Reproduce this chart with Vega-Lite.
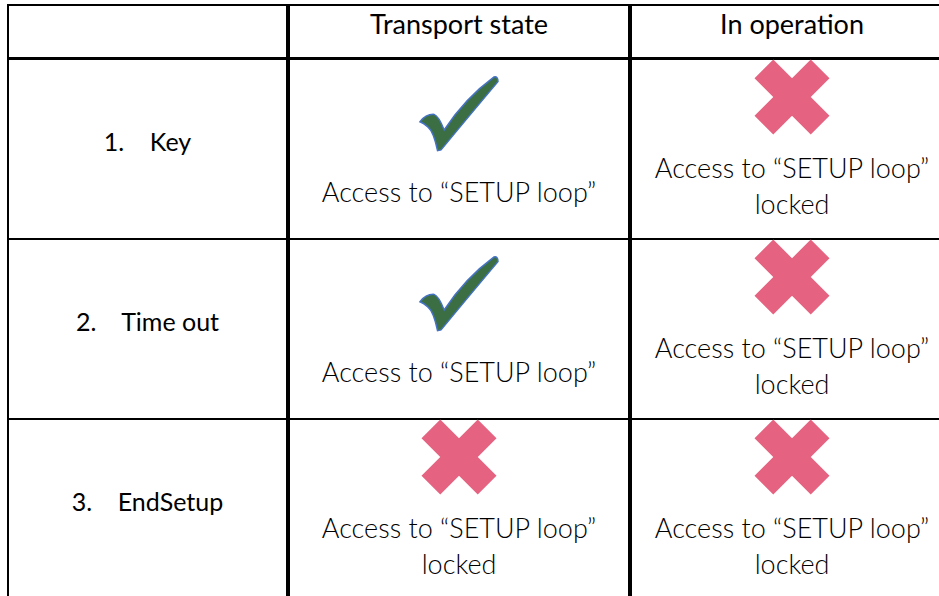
{
  "$schema": "https://vega.github.io/schema/vega-lite/v6.json",
  "background": "white",
  "padding": {"left": 6, "top": 4, "right": 0, "bottom": 0},
  "config": {
    "view": {"stroke": "black", "strokeWidth": 2},
    "text": {"font": "Lato", "fontSize": 27, "baseline": "middle", "align": "center"}
  },
  "datasets": {
    "cells": [
      {"row": 1, "label": "1.\u00a0\u00a0\u00a0\u00a0Key", "col": "Transport state", "status": "allowed", "note": "Access to “SETUP loop”"},
      {"row": 1, "label": "1.\u00a0\u00a0\u00a0\u00a0Key", "col": "In operation", "status": "locked", "note": "Access to “SETUP loop”\nlocked"},
      {"row": 2, "label": "2.\u00a0\u00a0\u00a0\u00a0Time out", "col": "Transport state", "status": "allowed", "note": "Access to “SETUP loop”"},
      {"row": 2, "label": "2.\u00a0\u00a0\u00a0\u00a0Time out", "col": "In operation", "status": "locked", "note": "Access to “SETUP loop”\nlocked"},
      {"row": 3, "label": "3.\u00a0\u00a0\u00a0\u00a0EndSetup", "col": "Transport state", "status": "locked", "note": "Access to “SETUP loop”\nlocked"},
      {"row": 3, "label": "3.\u00a0\u00a0\u00a0\u00a0EndSetup", "col": "In operation", "status": "locked", "note": "Access to “SETUP loop”\nlocked"}
    ]
  },
  "spacing": -5,
  "hconcat": [
    {
      "spacing": -5,
      "vconcat": [
        {
          "width": 279, "height": 53,
          "data": {"values": [{"col": ""}]},
          "mark": {"type": "text", "dy": -6},
          "encoding": {
            "y": {"field": "col", "type": "nominal", "scale": {"type": "band", "paddingInner": 0, "paddingOuter": 0}, "axis": null},
            "text": {"field": "col"}
          }
        },
        {
          "width": 279, "height": 540,
          "data": {"name": "cells"},
          "transform": [{"filter": "datum.col == 'Transport state'"}],
          "layer": [
            {
              "mark": {"type": "rule", "color": "black", "strokeWidth": 2},
              "encoding": {"y": {"field": "row", "type": "ordinal", "bandPosition": 0, "scale": {"type": "band", "domain": [1, 2, 3], "paddingInner": 0, "paddingOuter": 0}, "axis": null}}
            },
            {
              "mark": {"type": "text", "color": "black", "fontSize": 25, "dy": -6},
              "encoding": {
                "y": {"field": "row", "type": "ordinal", "scale": {"type": "band", "domain": [1, 2, 3], "paddingInner": 0, "paddingOuter": 0}, "axis": null},
                "text": {"field": "label"}
              }
            }
          ]
        }
      ]
    },
    {
      "spacing": -5,
      "vconcat": [
        {
          "width": 340, "height": 53,
          "data": {"name": "cells"},
          "transform": [{"filter": "datum.col == 'Transport state'"}, {"aggregate": [], "groupby": ["col"]}],
          "mark": {"type": "text", "color": "black", "dy": -6},
          "encoding": {
            "y": {"field": "col", "type": "nominal", "scale": {"type": "band", "paddingInner": 0, "paddingOuter": 0}, "axis": null},
            "text": {"field": "col"}
          }
        },
        {
          "width": 340, "height": 540,
          "data": {"name": "cells"},
          "transform": [{"filter": "datum.col == 'Transport state'"}],
          "layer": [
            {
              "mark": {"type": "rule", "color": "black", "strokeWidth": 2},
              "encoding": {"y": {"field": "row", "type": "ordinal", "bandPosition": 0, "scale": {"type": "band", "domain": [1, 2, 3], "paddingInner": 0, "paddingOuter": 0}, "axis": null}}
            },
            {
              "transform": [{"filter": "datum.status == 'allowed'"}],
              "mark": {"type": "point", "shape": "M -1 0.2 Q -0.85 0 -0.64 0.01 Q -0.52 0.05 -0.38 0.41 Q 0.15 -0.4 0.9 -0.95 Q 1 -0.97 1 -0.83 Q 0.3 0 -0.46 0.92 L -0.55 0.94 Q -0.65 0.45 -0.8 0.33 Q -0.9 0.24 -1 0.2 Z", "size": 6084, "fill": "#3B6E42", "stroke": "#4472C4", "strokeWidth": 1.5, "opacity": 1, "yOffset": -35},
              "encoding": {"y": {"field": "row", "type": "ordinal", "scale": {"type": "band", "domain": [1, 2, 3], "paddingInner": 0, "paddingOuter": 0}, "axis": null}}
            },
            {
              "transform": [{"filter": "datum.status == 'locked'"}],
              "mark": {"type": "point", "shape": "M -0.5 -1 L 0 -0.5 L 0.5 -1 L 1 -0.5 L 0.5 0 L 1 0.5 L 0.5 1 L 0 0.5 L -0.5 1 L -1 0.5 L -0.5 0 L -1 -0.5 Z", "size": 5625, "fill": "#E56380", "strokeWidth": 0, "opacity": 1, "yOffset": -52},
              "encoding": {"y": {"field": "row", "type": "ordinal", "scale": {"type": "band", "domain": [1, 2, 3], "paddingInner": 0, "paddingOuter": 0}, "axis": null}}
            },
            {
              "transform": [{"filter": "datum.status == 'allowed'"}],
              "mark": {"type": "text", "fontWeight": 300, "color": "#000000", "dy": 45},
              "encoding": {
                "y": {"field": "row", "type": "ordinal", "scale": {"type": "band", "domain": [1, 2, 3], "paddingInner": 0, "paddingOuter": 0}, "axis": null},
                "text": {"field": "note"}
              }
            },
            {
              "transform": [{"filter": "datum.status == 'locked'"}],
              "mark": {"type": "text", "fontWeight": 300, "color": "#000000", "dy": 21, "lineBreak": "\n", "lineHeight": 36},
              "encoding": {
                "y": {"field": "row", "type": "ordinal", "scale": {"type": "band", "domain": [1, 2, 3], "paddingInner": 0, "paddingOuter": 0}, "axis": null},
                "text": {"field": "note"}
              }
            }
          ]
        }
      ]
    },
    {
      "spacing": -5,
      "vconcat": [
        {
          "width": 322, "height": 53,
          "data": {"name": "cells"},
          "transform": [{"filter": "datum.col == 'In operation'"}, {"aggregate": [], "groupby": ["col"]}],
          "mark": {"type": "text", "color": "black", "dy": -6},
          "encoding": {
            "y": {"field": "col", "type": "nominal", "scale": {"type": "band", "paddingInner": 0, "paddingOuter": 0}, "axis": null},
            "text": {"field": "col"}
          }
        },
        {
          "width": 322, "height": 540,
          "data": {"name": "cells"},
          "transform": [{"filter": "datum.col == 'In operation'"}],
          "layer": [
            {
              "mark": {"type": "rule", "color": "black", "strokeWidth": 2},
              "encoding": {"y": {"field": "row", "type": "ordinal", "bandPosition": 0, "scale": {"type": "band", "domain": [1, 2, 3], "paddingInner": 0, "paddingOuter": 0}, "axis": null}}
            },
            {
              "transform": [{"filter": "datum.status == 'allowed'"}],
              "mark": {"type": "point", "shape": "M -1 0.2 Q -0.85 0 -0.64 0.01 Q -0.52 0.05 -0.38 0.41 Q 0.15 -0.4 0.9 -0.95 Q 1 -0.97 1 -0.83 Q 0.3 0 -0.46 0.92 L -0.55 0.94 Q -0.65 0.45 -0.8 0.33 Q -0.9 0.24 -1 0.2 Z", "size": 6084, "fill": "#3B6E42", "stroke": "#4472C4", "strokeWidth": 1.5, "opacity": 1, "yOffset": -35},
              "encoding": {"y": {"field": "row", "type": "ordinal", "scale": {"type": "band", "domain": [1, 2, 3], "paddingInner": 0, "paddingOuter": 0}, "axis": null}}
            },
            {
              "transform": [{"filter": "datum.status == 'locked'"}],
              "mark": {"type": "point", "shape": "M -0.5 -1 L 0 -0.5 L 0.5 -1 L 1 -0.5 L 0.5 0 L 1 0.5 L 0.5 1 L 0 0.5 L -0.5 1 L -1 0.5 L -0.5 0 L -1 -0.5 Z", "size": 5625, "fill": "#E56380", "strokeWidth": 0, "opacity": 1, "yOffset": -52},
              "encoding": {"y": {"field": "row", "type": "ordinal", "scale": {"type": "band", "domain": [1, 2, 3], "paddingInner": 0, "paddingOuter": 0}, "axis": null}}
            },
            {
              "transform": [{"filter": "datum.status == 'allowed'"}],
              "mark": {"type": "text", "fontWeight": 300, "color": "#000000", "dy": 45},
              "encoding": {
                "y": {"field": "row", "type": "ordinal", "scale": {"type": "band", "domain": [1, 2, 3], "paddingInner": 0, "paddingOuter": 0}, "axis": null},
                "text": {"field": "note"}
              }
            },
            {
              "transform": [{"filter": "datum.status == 'locked'"}],
              "mark": {"type": "text", "fontWeight": 300, "color": "#000000", "dy": 21, "lineBreak": "\n", "lineHeight": 36},
              "encoding": {
                "y": {"field": "row", "type": "ordinal", "scale": {"type": "band", "domain": [1, 2, 3], "paddingInner": 0, "paddingOuter": 0}, "axis": null},
                "text": {"field": "note"}
              }
            }
          ]
        }
      ]
    }
  ]
}
